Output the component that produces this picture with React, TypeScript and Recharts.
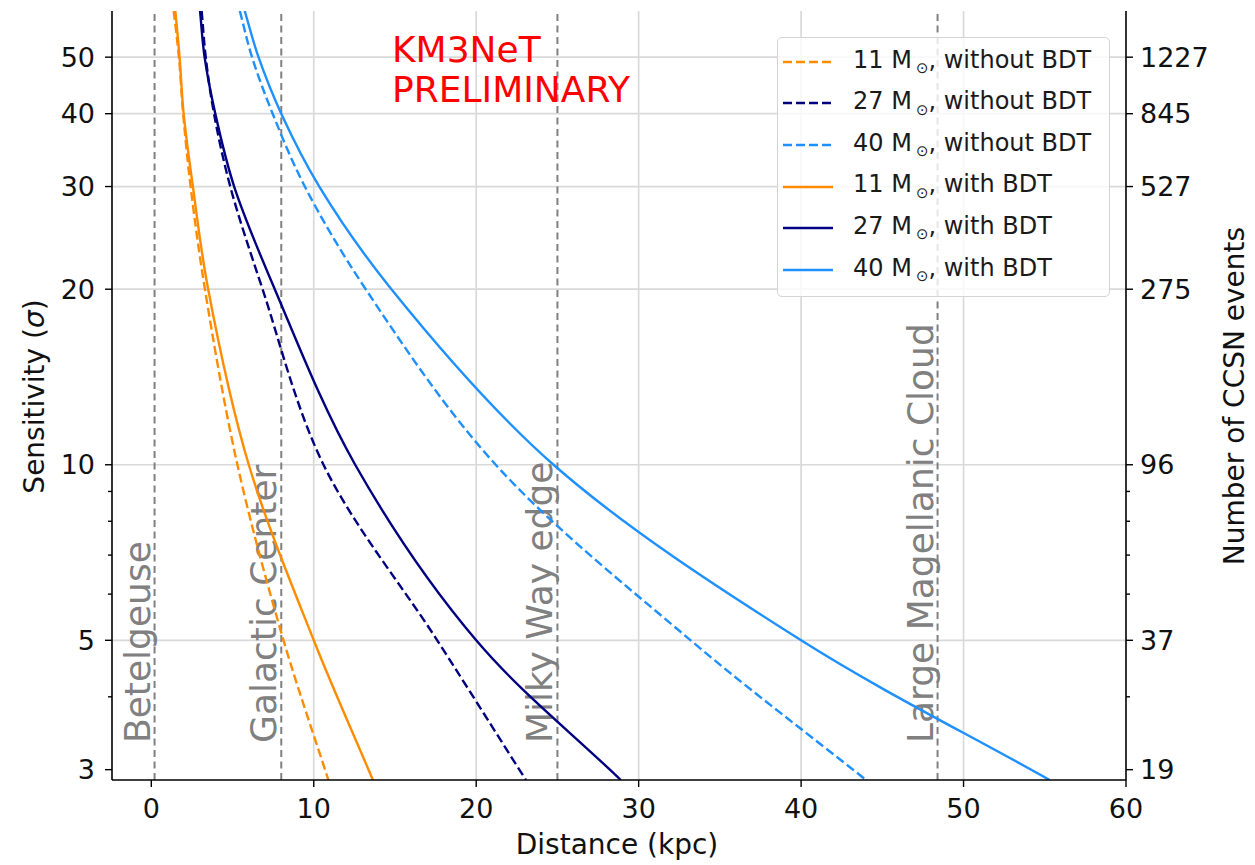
import React from 'react';
import { LineChart, Line, XAxis, YAxis, ReferenceLine, Legend } from 'recharts';

const FONT = '"DejaVu Sans", sans-serif';

// Distance axis (kpc)
const distanceTicks = [0, 10, 20, 30, 40, 50, 60];
const distanceGrid = [10, 20, 30, 40, 50];

// Sensitivity axis (sigma), logarithmic
const sigmaLabelled = [3, 5, 10, 20, 30, 40, 50];
const sigmaUnlabelled = [4, 6, 7, 8, 9];
const sigmaGrid = [5, 10, 20, 30, 40, 50];
// Number of CCSN events for each labelled sensitivity (right axis)
const ccsnEvents = ['19', '37', '96', '275', '527', '845', '1227'];

// Astronomical landmarks (kpc)
const landmarkNames = ['Betelgeuse', 'Galactic Center', 'Milky Way edge', 'Large Magellanic Cloud'];
const landmarkDistances = [0.2, 8, 25, 48.4];

// Sensitivity levels at which each curve's distance is given
const sigmaLevels = [60, 50, 40, 30, 20, 10, 5, 2.88];
// Distance (kpc) reached at each sensitivity level
const dist11NoBdt = [1.38, 1.7, 1.96, 2.42, 3.3, 5.3, 8.14, 10.9];
const dist27NoBdt = [3.1, 3.35, 3.86, 4.86, 6.85, 10.6, 17.6, 23.06];
const dist40NoBdt = [5.45, 6.2, 7.47, 9.45, 13.2, 21.2, 33.2, 44.0];
const dist11Bdt = [1.48, 1.74, 1.99, 2.56, 3.5, 6.0, 10.0, 13.64];
const dist27Bdt = [3.0, 3.28, 3.94, 5.1, 7.6, 12.55, 20.0, 28.9];
const dist40Bdt = [5.75, 6.6, 8.0, 10.34, 14.78, 24.76, 40.0, 55.3];

const progenitorMasses = ['11', '27', '40'];
const massColors = ['#ff8c00', '#000080', '#1e90ff'];

const curves = [
  { mass: progenitorMasses[0], bdt: false, color: massColors[0], dist: dist11NoBdt },
  { mass: progenitorMasses[1], bdt: false, color: massColors[1], dist: dist27NoBdt },
  { mass: progenitorMasses[2], bdt: false, color: massColors[2], dist: dist40NoBdt },
  { mass: progenitorMasses[0], bdt: true, color: massColors[0], dist: dist11Bdt },
  { mass: progenitorMasses[1], bdt: true, color: massColors[1], dist: dist27Bdt },
  { mass: progenitorMasses[2], bdt: true, color: massColors[2], dist: dist40Bdt },
].map((c) => ({ ...c, data: c.dist.map((d, i) => ({ d, s: sigmaLevels[i] })) }));

const X_DOMAIN: [number, number] = [-2.42, 60];
const Y_DOMAIN: [number, number] = [2.88, 60];
const SERIES_DASH = '9 4';

// Centripetal Catmull-Rom curve (d3 curve-factory interface), smooth through
// unevenly spaced points without overshoot.
const centripetalCurve = (context: any) => {
  let pts: [number, number][] = [];
  const alpha = 0.5;
  return {
    areaStart() {},
    areaEnd() {},
    lineStart() {
      pts = [];
    },
    point(x: number, y: number) {
      pts.push([+x, +y]);
    },
    lineEnd() {
      const n = pts.length;
      if (n === 0) return;
      context.moveTo(pts[0][0], pts[0][1]);
      if (n === 1) return;
      if (n === 2) {
        context.lineTo(pts[1][0], pts[1][1]);
        return;
      }
      const at = (i: number): [number, number] => {
        if (i < 0) return [2 * pts[0][0] - pts[1][0], 2 * pts[0][1] - pts[1][1]];
        if (i > n - 1) return [2 * pts[n - 1][0] - pts[n - 2][0], 2 * pts[n - 1][1] - pts[n - 2][1]];
        return pts[i];
      };
      const dist = (a: [number, number], b: [number, number]) =>
        Math.hypot(b[0] - a[0], b[1] - a[1]);
      for (let i = 0; i < n - 1; i++) {
        const p0 = at(i - 1);
        const p1 = at(i);
        const p2 = at(i + 1);
        const p3 = at(i + 2);
        const l01 = dist(p0, p1);
        const l12 = dist(p1, p2);
        const l23 = dist(p2, p3);
        const l01a = Math.pow(l01, alpha);
        const l12a = Math.pow(l12, alpha);
        const l23a = Math.pow(l23, alpha);
        const l01_2a = Math.pow(l01, 2 * alpha);
        const l12_2a = Math.pow(l12, 2 * alpha);
        const l23_2a = Math.pow(l23, 2 * alpha);
        let c1x = p1[0];
        let c1y = p1[1];
        let c2x = p2[0];
        let c2y = p2[1];
        if (l01a > 1e-9) {
          const a = 2 * l01_2a + 3 * l01a * l12a + l12_2a;
          const m = 3 * l01a * (l01a + l12a);
          c1x = (p1[0] * a - p0[0] * l12_2a + p2[0] * l01_2a) / m;
          c1y = (p1[1] * a - p0[1] * l12_2a + p2[1] * l01_2a) / m;
        }
        if (l23a > 1e-9) {
          const b = 2 * l23_2a + 3 * l23a * l12a + l12_2a;
          const m = 3 * l23a * (l23a + l12a);
          c2x = (p2[0] * b + p1[0] * l23_2a - p3[0] * l12_2a) / m;
          c2y = (p2[1] * b + p1[1] * l23_2a - p3[1] * l12_2a) / m;
        }
        context.bezierCurveTo(c1x, c1y, c2x, c2y, p2[0], p2[1]);
      }
    },
  };
};

const LeftTick = (props: any) => {
  const { x, y, payload } = props;
  const labelled = sigmaLabelled.includes(payload.value);
  return (
    <g>
      <line x1={x} x2={x - (labelled ? 7 : 4)} y1={y} y2={y} stroke="#000" strokeWidth={1.4} />
      {labelled && (
        <text x={x - 17} y={y + 9.5} textAnchor="end" fontSize={27} fontFamily={FONT} fill="#111">
          {payload.value}
        </text>
      )}
    </g>
  );
};

const RightTick = (props: any) => {
  const { x, y, payload } = props;
  const idx = sigmaLabelled.indexOf(payload.value);
  return (
    <g>
      <line x1={x} x2={x + (idx >= 0 ? 7 : 4)} y1={y} y2={y} stroke="#000" strokeWidth={1.4} />
      {idx >= 0 && (
        <text x={x + 14} y={y + 9.5} textAnchor="start" fontSize={27} fontFamily={FONT} fill="#111">
          {ccsnEvents[idx]}
        </text>
      )}
    </g>
  );
};

const BottomTick = (props: any) => {
  const { x, y, payload } = props;
  return (
    <g>
      <line x1={x} x2={x} y1={y} y2={y + 7} stroke="#000" strokeWidth={1.4} />
      <text x={x} y={y + 38} textAnchor="middle" fontSize={27} fontFamily={FONT} fill="#111">
        {payload.value}
      </text>
    </g>
  );
};

const landmarkLabel = (name: string) => (props: any) => {
  const vb = props.viewBox || {};
  const x = (vb.x ?? 0) - 5;
  const y = (vb.y ?? 0) + (vb.height ?? 0) - 37;
  return (
    <text
      x={x}
      y={y}
      transform={`rotate(-90, ${x}, ${y})`}
      textAnchor="start"
      fontSize={36}
      fontFamily={FONT}
      fill="#808080"
    >
      {name}
    </text>
  );
};

const LegendBox = () => (
  <div
    style={{
      width: 333,
      height: 260,
      boxSizing: 'border-box',
      border: '1.5px solid #d4d4d4',
      borderRadius: 5,
      background: 'rgba(255,255,255,0.8)',
      paddingTop: 3,
      fontFamily: FONT,
      fontSize: 24,
      color: '#1a1a1a',
    }}
  >
    {curves.map((c, i) => (
      <div key={i} style={{ display: 'flex', alignItems: 'center', height: 41.6 }}>
        <svg width={50} height={6} style={{ marginLeft: 5, display: 'block' }}>
          <line
            x1={0}
            x2={50}
            y1={3}
            y2={3}
            stroke={c.color}
            strokeWidth={2.6}
            strokeDasharray={c.bdt ? undefined : SERIES_DASH}
          />
        </svg>
        <span style={{ marginLeft: 20, whiteSpace: 'nowrap', lineHeight: 1 }}>
          {c.mass} M
          <span style={{ fontSize: 15, verticalAlign: '-0.35em', marginLeft: 4 }}>⊙</span>
          {c.bdt ? ', with BDT' : ', without BDT'}
        </span>
      </div>
    ))}
  </div>
);

export default function App() {
  return (
    <div style={{ position: 'fixed', left: 0, top: 0, width: 1255, height: 865, background: '#fff' }}>
      <LineChart width={1255} height={865} margin={{ top: 11, right: 59, bottom: 35, left: 52 }}>
        <XAxis
          dataKey="d"
          type="number"
          domain={X_DOMAIN}
          ticks={distanceTicks}
          interval={0}
          allowDataOverflow
          height={50}
          tickSize={0}
          tickMargin={0}
          tickLine={false}
          tick={<BottomTick />}
          axisLine={{ stroke: '#000', strokeWidth: 1.6 }}
        />
        <XAxis
          xAxisId="top"
          orientation="top"
          dataKey="d"
          type="number"
          domain={X_DOMAIN}
          allowDataOverflow
          height={0}
          tick={false}
          tickLine={false}
          axisLine={{ stroke: '#000', strokeWidth: 1.6 }}
        />
        <YAxis
          yAxisId="L"
          dataKey="s"
          type="number"
          scale="log"
          domain={Y_DOMAIN}
          ticks={[...sigmaLabelled, ...sigmaUnlabelled]}
          interval={0}
          allowDataOverflow
          width={60}
          tickSize={0}
          tickMargin={0}
          tickLine={false}
          tick={<LeftTick />}
          axisLine={{ stroke: '#000', strokeWidth: 1.6 }}
        />
        <YAxis
          yAxisId="R"
          orientation="right"
          dataKey="s"
          type="number"
          scale="log"
          domain={Y_DOMAIN}
          ticks={[...sigmaLabelled, ...sigmaUnlabelled]}
          interval={0}
          allowDataOverflow
          width={70}
          tickSize={0}
          tickMargin={0}
          tickLine={false}
          tick={<RightTick />}
          axisLine={{ stroke: '#000', strokeWidth: 1.6 }}
        />

        {sigmaGrid.map((v) => (
          <ReferenceLine key={`gy${v}`} yAxisId="L" y={v} stroke="#d9d9d9" strokeWidth={1.7} />
        ))}
        {distanceGrid.map((v) => (
          <ReferenceLine key={`gx${v}`} yAxisId="L" x={v} stroke="#d9d9d9" strokeWidth={1.7} />
        ))}
        {landmarkDistances.map((d, i) => (
          <ReferenceLine
            key={`lm${i}`}
            yAxisId="L"
            x={d}
            stroke="#808080"
            strokeWidth={2}
            strokeDasharray="7 4.5"
            label={landmarkLabel(landmarkNames[i])}
          />
        ))}

        {curves.map((c, i) => (
          <Line
            key={i}
            yAxisId="L"
            data={c.data}
            dataKey="s"
            type={centripetalCurve as any}
            stroke={c.color}
            strokeWidth={2.4}
            strokeDasharray={c.bdt ? undefined : SERIES_DASH}
            dot={false}
            activeDot={false}
            isAnimationActive={false}
          />
        ))}

        <Legend
          layout="vertical"
          align="center"
          verticalAlign="middle"
          content={() => <LegendBox />}
          wrapperStyle={{ left: 777, top: 37, width: 333, height: 260 }}
        />
      </LineChart>

      <svg
        width={1255}
        height={865}
        style={{ position: 'absolute', left: 0, top: 0, pointerEvents: 'none' }}
      >
        <text x={392} y={62} fontSize={36} fontFamily={FONT} fill="#ff0000">
          KM3NeT
        </text>
        <text x={392} y={102} fontSize={36} fontFamily={FONT} fill="#ff0000">
          PRELIMINARY
        </text>
        <text x={617} y={854} textAnchor="middle" fontSize={28} fontFamily={FONT} fill="#111">
          Distance (kpc)
        </text>
        <text
          x={43.5}
          y={396.5}
          transform="rotate(-90, 43.5, 396.5)"
          textAnchor="middle"
          fontSize={28}
          fontFamily={FONT}
          fill="#111"
        >
          Sensitivity (<tspan fontStyle="italic">σ</tspan>)
        </text>
        <text
          x={1244}
          y={396}
          transform="rotate(-90, 1244, 396)"
          textAnchor="middle"
          fontSize={28}
          fontFamily={FONT}
          fill="#111"
        >
          Number of CCSN events
        </text>
      </svg>
    </div>
  );
}
